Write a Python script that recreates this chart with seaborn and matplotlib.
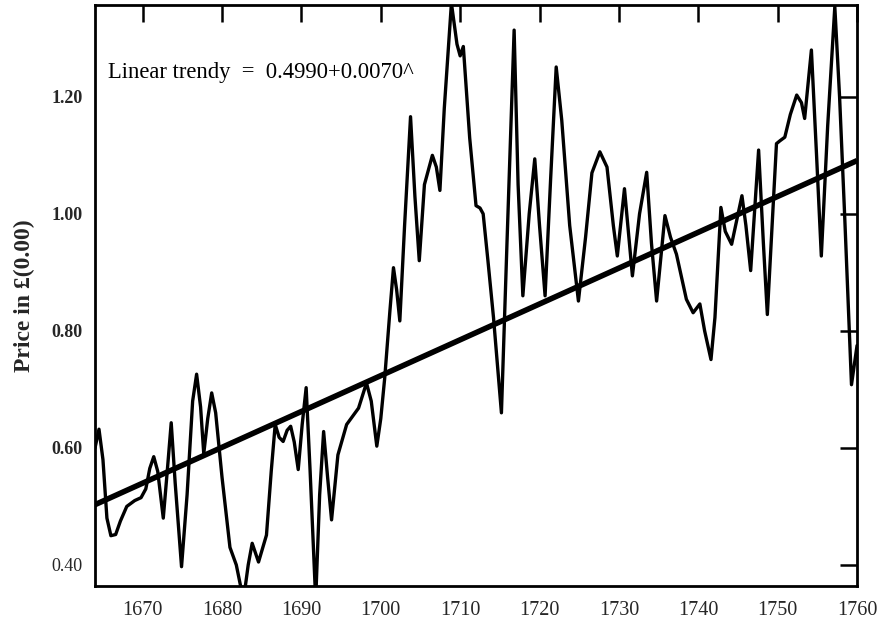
import matplotlib
matplotlib.use("Agg")
import matplotlib.pyplot as plt
import seaborn as sns
import pandas as pd

# Smoothed annual price series (pounds) and its fitted linear trend
years = [
    1664.0, 1664.5, 1665.0, 1665.5, 1666.0, 1666.6, 1667.2, 1668.0, 1669.0, 1669.8,
    1670.4, 1670.9, 1671.4, 1671.9, 1672.6, 1673.1, 1673.6, 1674.1, 1674.9, 1675.6,
    1676.3, 1676.8, 1677.3, 1677.7, 1678.2, 1678.7, 1679.2, 1680.0, 1681.0, 1681.8,
    1682.7, 1683.3, 1683.8, 1684.6, 1685.6, 1686.2, 1686.7, 1687.2, 1687.7, 1688.2,
    1688.65, 1689.1, 1689.6, 1690.1, 1690.6, 1691.1, 1691.8, 1692.3, 1692.8, 1693.3,
    1693.8, 1694.6, 1695.7, 1696.5, 1697.2, 1698.2, 1698.8, 1699.5, 1700.0, 1700.5,
    1701.15, 1701.6, 1702.0, 1702.4, 1703.0, 1703.75, 1704.3, 1704.85, 1705.5, 1706.5,
    1707.0, 1707.45, 1708.0, 1708.9, 1709.6, 1710.0, 1710.4, 1711.2, 1712.0, 1712.5,
    1712.9, 1713.5, 1714.2, 1715.2, 1715.9, 1716.8, 1717.3, 1717.9, 1718.7, 1719.4,
    1720.0, 1720.7, 1721.4, 1722.1, 1722.8, 1723.8, 1724.9, 1725.8, 1726.6, 1727.6,
    1728.5, 1729.3, 1729.8, 1730.7, 1731.7, 1732.6, 1733.5, 1734.1, 1734.75, 1735.8,
    1736.5, 1737.25, 1738.5, 1739.35, 1740.2, 1740.8, 1741.6, 1742.1, 1742.85, 1743.4,
    1744.2, 1745.5, 1746.0, 1746.6, 1747.6, 1748.2, 1748.7, 1749.3, 1749.85, 1750.3,
    1750.9, 1751.6, 1752.4, 1753.0, 1753.4, 1754.25, 1754.9, 1755.5, 1756.3, 1757.2,
    1757.8, 1758.45, 1759.3, 1760.0,
]
prices = [
    0.600, 0.632, 0.580, 0.480, 0.450, 0.452, 0.475, 0.500, 0.510, 0.515,
    0.530, 0.565, 0.585, 0.560, 0.480, 0.560, 0.643, 0.540, 0.397, 0.520,
    0.680, 0.726, 0.670, 0.590, 0.650, 0.694, 0.660, 0.550, 0.430, 0.400,
    0.340, 0.400, 0.437, 0.405, 0.451, 0.560, 0.640, 0.618, 0.611, 0.630,
    0.637, 0.610, 0.563, 0.640, 0.703, 0.560, 0.340, 0.520, 0.628, 0.550,
    0.477, 0.588, 0.640, 0.655, 0.668, 0.711, 0.680, 0.603, 0.650, 0.720,
    0.834, 0.908, 0.870, 0.817, 0.980, 1.166, 1.030, 0.920, 1.050, 1.100,
    1.080, 1.040, 1.180, 1.360, 1.290, 1.270, 1.286, 1.130, 1.014, 1.010,
    1.000, 0.920, 0.823, 0.660, 0.950, 1.314, 1.050, 0.860, 1.000, 1.094,
    0.980, 0.860, 1.060, 1.251, 1.160, 0.980, 0.851, 0.960, 1.070, 1.106,
    1.080, 0.980, 0.928, 1.043, 0.894, 1.000, 1.071, 0.950, 0.851, 0.997,
    0.960, 0.931, 0.854, 0.831, 0.846, 0.800, 0.751, 0.823, 1.011, 0.970,
    0.948, 1.031, 0.980, 0.903, 1.109, 0.950, 0.828, 0.980, 1.120, 1.125,
    1.131, 1.170, 1.203, 1.190, 1.163, 1.280, 1.100, 0.928, 1.150, 1.354,
    1.200, 0.994, 0.708, 0.775,
]
trend_years = [1664, 1760]
trend_values = [0.503, 1.091]

x_ticks = [1670, 1680, 1690, 1700, 1710, 1720, 1730, 1740, 1750, 1760]
y_ticks = [0.40, 0.60, 0.80, 1.00, 1.20]
y_tick_labels = ["0.40", "0.60", "0.80", "1.00", "1.20"]

series = pd.DataFrame({"year": years, "price": prices})
trend = pd.DataFrame({"year": trend_years, "price": trend_values})

sns.set_style("white")
plt.rcParams["font.family"] = ["Liberation Serif", "DejaVu Serif"]

fig = plt.figure(figsize=(8.83, 6.19), dpi=100)
ax = fig.add_axes([0.1076, 0.0533, 0.8630, 0.9387])

sns.lineplot(data=series, x="year", y="price", ax=ax, color="black",
             linewidth=2.4, solid_joinstyle="round", solid_capstyle="round")
sns.lineplot(data=trend, x="year", y="price", ax=ax, color="black",
             linewidth=4.0, solid_capstyle="butt")

ax.set_xlim(1664, 1760)
ax.set_ylim(0.364, 1.357)
ax.set_xticks(x_ticks)
ax.set_xticklabels([str(t) for t in x_ticks], fontsize=14.5)
ax.set_yticks(y_ticks)
ax.set_yticklabels(y_tick_labels, fontsize=13)
for lbl in ax.get_yticklabels():
    if lbl.get_text() != "0.40":
        lbl.set_fontweight("bold")

ax.tick_params(axis="both", which="major", direction="in", length=12, width=1.8,
               top=True, right=True, color="black")
ax.tick_params(axis="x", pad=11)
ax.tick_params(axis="y", pad=9)
for side in ["left", "right", "top", "bottom"]:
    ax.spines[side].set_visible(True)
    ax.spines[side].set_color("black")
    ax.spines[side].set_linewidth(2.0)

ax.set_xlabel("")
ax.set_ylabel("Price in £(0.00)", fontsize=17, fontweight="bold", labelpad=12)

ax.text(1665.6, 1.232, "Linear trendy  =  0.4990+0.0070^", fontsize=16.3,
        ha="left", va="baseline", color="black")

fig.savefig("out.png", dpi=100, facecolor="white")
